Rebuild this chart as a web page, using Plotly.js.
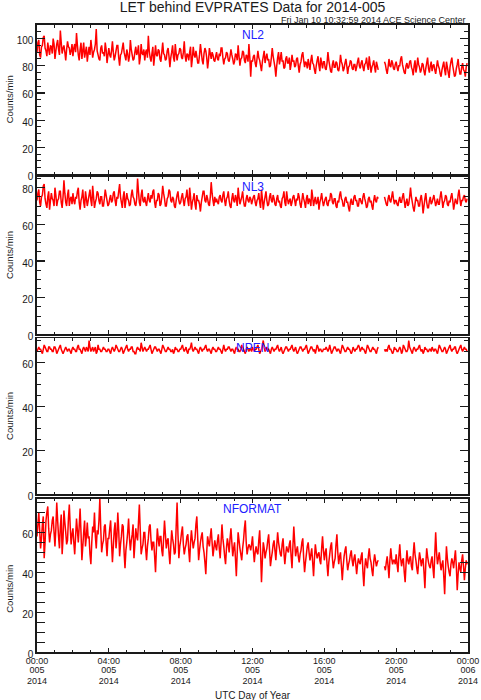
<!DOCTYPE html>
<html>
<head>
<meta charset="utf-8">
<script src="https://cdn.plot.ly/plotly-3.0.1.min.js"></script>
<style>html,body{margin:0;padding:0;background:#fff;}</style>
</head>
<body>
<div id="chart" style="width:481px;height:700px;"></div>
<script>
// Sampling grid: hours after 2014-005 00:00 UTC, one value every 3 minutes
const stepHours = 0.05;

const panelNames = ['NL2', 'NL3', 'NPEN', 'NFORMAT'];

const NL2 = [
 90, 97, 99, 88, 86, 94, 95,101,102, 93,  91, 87, 97, 92, 88, 95, 94, 89,100, 96,
 85, 91, 96, 99, 92, 88,106, 97, 89, 93,  95, 90, 84, 92, 98, 94, 93, 88, 91, 96,
 87, 93, 96, 90,104, 95, 88, 84, 92, 97,  85, 91, 97, 86, 90, 94, 83, 89, 94, 88,
 99, 93, 86, 90, 92, 96,107, 91, 88, 85,  84, 93, 95, 89, 90, 87, 97, 92, 82, 88,
 93, 88, 86, 91, 98, 90, 84, 87, 91, 95,  95, 86, 80, 88, 89, 93, 97, 90, 87, 84,
 92, 89, 83, 87, 99, 92, 88, 84, 85, 90,  94, 88, 90, 95, 81, 86, 96, 89, 88, 92,
 84, 90, 92, 86,102, 91, 86, 83, 89, 94,  80, 87, 95, 88, 87, 92, 91, 85, 83, 90,
 97, 89, 88, 84, 85, 91, 93, 87, 79, 86,  90, 95, 86, 83, 96, 89, 84, 88, 89, 93,
 92, 86, 85, 90, 98, 87, 83, 89, 88, 84,  90, 94, 79, 85, 94, 88, 86, 91, 87, 82,
 82, 88, 96, 90, 84, 81, 89, 93, 91, 86,  78, 84, 93, 89, 85, 90, 88, 84, 83, 87,
 90, 85, 84, 89, 87, 93, 93, 86, 81, 85,  86, 90, 89, 84, 83, 87, 92, 88, 85, 81,
 83, 89, 88, 84, 95, 87, 80, 85, 86, 91,  90, 84, 82, 88, 87, 83, 96, 86, 72, 84,
 83, 87, 88, 82, 79, 85, 91, 86, 84, 80,  76, 83, 87, 91, 82, 86, 89, 84, 85, 79,
 80, 86, 93, 87, 83, 79, 72, 80, 86, 90,  81, 85, 90, 83, 84, 78, 79, 85, 87, 82,
 82, 86, 77, 81, 88, 83, 84, 79, 80, 85,  86, 80, 75, 81, 83, 88, 90, 84, 79, 83,
 82, 78, 85, 81, 77, 84, 88, 82, 81, 77,  74, 80, 84, 87, 80, 76, 86, 82, 78, 83,
 83, 78, 77, 82, 90, 84, 80, 76, 75, 81,  84, 79, 79, 83, 82, 77, 76, 80, 88, 83,
 81, 76, 78, 82, 85, 80, 74, 79, 80, 84,  83, 78, 77, 81, 81, 76, 79, 83, 86, 80,
 78, 82, 84, 79, 76, 81, 82, 86, 80, 77,  87, 81, 75, 79, 81, 84, 79, 75, 83, 80,
 77,null,null,null,null,null,null, 83, 81, 77,  74, 79, 85, 80, 79, 84, 82, 78, 77, 81,
 83, 79, 76, 80, 80, 85, 87, 81, 78, 75,  74, 80, 82, 78, 79, 83, 84, 79, 77, 73,
 80, 84, 75, 79, 86, 81, 79, 75, 77, 82,  81, 76, 73, 78, 82, 86, 78, 75, 80, 83,
 76, 80, 81, 77, 74, 79, 84, 80, 78, 74,  72, 77, 80, 83, 77, 73, 83, 79, 75, 71,
 79, 83, 86, 80, 76, 72, 73, 78, 81, 85,  78, 74, 74, 79, 82, 77, 76, 72, 79, 82
];

const NL3 = [
 73, 77, 79, 72, 70, 75, 76, 81, 82, 74,  71, 69, 75, 78, 68, 73, 77, 74, 73, 70,
 80, 76, 70, 73, 74, 78, 78, 72, 69, 75,  84, 77, 72, 70, 76, 79, 70, 74, 75, 71,
 77, 73, 71, 75, 74, 78, 80, 72, 68, 73,  75, 79, 72, 69, 78, 74, 70, 73, 76, 79,
 73, 70, 81, 75, 69, 72, 74, 78, 77, 73,  71, 75, 75, 70, 70, 74, 79, 76, 73, 70,
 71, 74, 76, 72, 73, 77, 78, 73, 70, 75,  74, 78, 82, 75, 72, 69, 75, 78, 69, 73,
 77, 74, 73, 70, 71, 76, 79, 75, 74, 71,  70, 74, 85, 78, 72, 70, 76, 79, 73, 72,
 75, 72, 70, 74, 77, 73, 72, 76, 74, 78,  79, 72, 69, 73, 73, 77, 76, 70, 71, 75,
 81, 77, 74, 70, 70, 74, 75, 79, 78, 73,  72, 75, 74, 70, 69, 73, 76, 78, 73, 71,
 72, 75, 77, 73, 70, 74, 75, 79, 73, 70,  80, 75, 68, 72, 74, 77, 71, 68, 76, 73,
 73, 71, 67, 72, 75, 78, 78, 73, 72, 76,  74, 71, 70, 75, 83, 77, 73, 70, 75, 72,
 74, 72, 71, 75, 76, 73, 72, 76, 78, 73,  70, 74, 75, 78, 73, 70, 69, 74, 77, 73,
 72, 76, 74, 70, 80, 75, 71, 73, 75, 78,  73, 70, 70, 74, 76, 73, 72, 75, 74, 71,
 73, 75, 76, 72, 70, 73, 74, 77, 72, 69,  79, 74, 68, 72, 75, 78, 73, 70, 71, 75,
 77, 73, 72, 76, 74, 71, 70, 74, 76, 72,  73, 70, 69, 74, 75, 78, 72, 70, 78, 74,
 71, 73, 74, 70, 72, 75, 76, 73, 70, 74,  73, 77, 75, 71, 69, 73, 77, 74, 72, 69,
 74, 76, 71, 74, 73, 70, 79, 75, 70, 73,  75, 71, 72, 75, 68, 72, 74, 77, 73, 70,
 72, 74, 75, 71, 70, 73, 73, 77, 76, 72,  71, 74, 74, 70, 69, 73, 72, 76, 78, 74,
 73, 70, 70, 74, 75, 72, 72, 69, 67, 72,  74, 71, 71, 75, 76, 73, 73, 70, 70, 74,
 74, 72, 71, 75, 77, 74, 72, 69, 70, 74,  75, 72, 73, 70, 68, 73, 76, 73, 72, 75,
 74,null,null,null,null,null,null, 75, 73, 71,  70, 74, 76, 73, 72, 75, 78, 74, 71, 73,
 73, 71, 70, 73, 75, 72, 72, 75, 77, 73,  69, 72, 74, 70, 71, 75, 80, 75, 72, 69,
 67, 71, 75, 73, 73, 70, 70, 74, 76, 72,  66, 70, 74, 77, 72, 69, 69, 73, 75, 71,
 72, 74, 76, 73, 70, 72, 74, 71, 71, 75,  78, 74, 69, 72, 73, 76, 75, 71, 70, 73,
 72, 75, 77, 73, 68, 71, 74, 72, 71, 76,  79, 74, 70, 73, 73, 75, 76, 73, 72, 74
];

const NPEN = [
 65, 66, 67, 66, 66, 65, 64, 66, 68, 67,  66, 65, 65, 67, 67, 66, 66, 65, 65, 67,
 67, 66, 64, 65, 66, 67, 68, 66, 65, 64,  65, 66, 67, 66, 65, 66, 66, 65, 64, 66,
 67, 66, 66, 65, 65, 67, 68, 66, 66, 65,  64, 66, 67, 66, 65, 67, 66, 65, 70, 67,
 65, 66, 67, 65, 66, 67, 64, 65, 68, 66,  66, 65, 65, 66, 67, 66, 66, 65, 65, 66,
 66, 65, 64, 66, 67, 66, 65, 66, 68, 67,  66, 65, 65, 66, 67, 66, 64, 65, 66, 67,
 68, 66, 65, 66, 66, 67, 67, 65, 65, 64,  64, 66, 67, 66, 66, 65, 69, 67, 65, 66,
 67, 66, 65, 66, 66, 67, 68, 66, 64, 65,  66, 67, 67, 66, 65, 66, 66, 65, 64, 66,
 68, 67, 66, 65, 65, 66, 67, 66, 66, 65,  65, 66, 64, 65, 67, 66, 66, 65, 65, 66,
 66, 67, 68, 66, 65, 66, 67, 65, 64, 66,  66, 67, 69, 66, 65, 66, 67, 66, 66, 65,
 64, 66, 67, 66, 65, 66, 66, 67, 68, 66,  65, 66, 66, 65, 64, 66, 67, 66, 66, 65,
 65, 66, 67, 66, 66, 65, 64, 66, 68, 66,  65, 66, 66, 67, 67, 66, 65, 66, 66, 65,
 64, 66, 67, 66, 66, 65, 65, 66, 68, 67,  66, 65, 64, 66, 67, 66, 65, 66, 66, 65,
 67, 66, 65, 66, 66, 67, 68, 66, 64, 65,  66, 68, 70, 67, 65, 66, 67, 66, 66, 65,
 64, 66, 67, 66, 65, 66, 66, 67, 68, 66,  65, 66, 67, 65, 64, 65, 66, 67, 67, 66,
 65, 66, 66, 67, 68, 66, 65, 66, 67, 65,  64, 65, 66, 67, 67, 66, 65, 66, 66, 67,
 68, 66, 64, 65, 66, 67, 67, 66, 65, 66,  64, 66, 68, 67, 65, 66, 66, 65, 65, 66,
 66, 66, 67, 66, 65, 66, 68, 66, 64, 65,  66, 67, 67, 66, 65, 66, 66, 65, 64, 66,
 68, 67, 66, 65, 65, 66, 67, 66, 66, 65,  64, 65, 67, 66, 65, 66, 66, 67, 68, 67,
 65, 66, 67, 66, 66, 65, 64, 66, 68, 67,  66, 65, 65, 66, 67, 66, 66, 65, 64, 66,
 67,null,null,null,null,null,null, 66, 65, 66,  65, 67, 68, 66, 66, 65, 64, 65, 67, 66,
 66, 65, 65, 66, 67, 66, 64, 65, 68, 67,  66, 65, 65, 66, 70, 67, 66, 65, 64, 66,
 67, 66, 65, 66, 66, 67, 68, 66, 65, 66,  64, 65, 67, 66, 66, 65, 65, 66, 66, 65,
 67, 66, 65, 66, 66, 65, 64, 66, 68, 67,  66, 65, 65, 66, 67, 66, 64, 65, 66, 67,
 68, 66, 65, 66, 66, 67, 67, 65, 64, 65,  66, 67, 68, 66, 65, 66, 67, 66, 66, 65
];

const NFORMAT = [
 58, 64, 70, 61, 52, 57, 64, 68, 47, 55,  66, 70, 73, 62, 55, 59, 61, 66, 68, 60,
 53, 62, 75, 66, 58, 52, 63, 69, 49, 57,  71, 65, 60, 54, 56, 67, 74, 63, 54, 59,
 62, 55, 49, 58, 67, 61, 55, 63, 72, 60,  46, 53, 60, 66, 53, 58, 65, 57, 58, 49,
 44, 55, 63, 60, 70, 58, 52, 61, 59, 66,  77, 62, 50, 54, 56, 63, 64, 55, 48, 57,
 57, 62, 66, 55, 45, 53, 61, 65, 52, 58,  70, 61, 48, 54, 58, 64, 63, 50, 42, 51,
 55, 60, 67, 57, 51, 56, 59, 64, 47, 54,  62, 58, 56, 65, 74, 61, 49, 52, 54, 60,
 60, 52, 46, 53, 57, 63, 64, 56, 51, 55,  55, 48, 40, 52, 62, 57, 53, 58, 58, 51,
 48, 57, 66, 59, 52, 56, 57, 50, 44, 53,  61, 57, 54, 49, 50, 63, 75, 59, 47, 53,
 56, 60, 63, 54, 49, 52, 54, 58, 59, 51,  45, 55, 61, 56, 52, 55, 57, 64, 68, 57,
 46, 51, 55, 58, 60, 53, 50, 45, 39, 50,  58, 55, 53, 58, 62, 55, 48, 52, 56, 53,
 51, 56, 59, 52, 47, 55, 64, 57, 53, 48,  44, 52, 57, 54, 50, 57, 62, 55, 48, 52,
 55, 47, 38, 50, 60, 56, 52, 49, 46, 52,  56, 62, 66, 55, 49, 52, 54, 53, 51, 54,
 58, 51, 45, 50, 53, 50, 49, 56, 61, 50,  35, 46, 55, 52, 47, 50, 52, 56, 59, 51,
 43, 47, 50, 54, 56, 51, 46, 53, 60, 55,  52, 49, 48, 54, 57, 50, 44, 49, 53, 51,
 50, 54, 56, 48, 42, 53, 63, 55, 48, 51,  53, 48, 45, 49, 51, 55, 57, 47, 40, 45,
 49, 53, 55, 50, 46, 49, 52, 45, 38, 47,  54, 50, 47, 49, 50, 46, 44, 52, 58, 51,
 46, 50, 52, 44, 38, 45, 49, 53, 55, 47,  42, 45, 47, 54, 59, 50, 44, 48, 50, 43,
 36, 43, 48, 51, 53, 46, 41, 44, 46, 49,  51, 46, 43, 47, 49, 44, 39, 44, 47, 45,
 44, 48, 50, 40, 33, 42, 47, 44, 42, 48,  52, 47, 45, 41, 38, 45, 49, 46, 43, 45,
 46,null,null,null,null,null,null, 43, 41, 45,  48, 43, 37, 46, 52, 47, 44, 46, 46, 44,
 49, 44, 40, 48, 54, 47, 43, 46, 47, 40,  35, 44, 51, 46, 44, 47, 48, 43, 41, 49,
 55, 49, 46, 42, 39, 45, 50, 47, 43, 46,  47, 40, 32, 44, 52, 48, 45, 43, 42, 46,
 48, 42, 37, 49, 60, 50, 44, 47, 50, 45,  41, 44, 46, 38, 29, 42, 53, 47, 43, 40,
 38, 44, 47, 45, 42, 47, 51, 43, 31, 39,  45, 42, 40, 46, 49, 43, 36, 42, 46, 44
];

const tickHours = [0, 4, 8, 12, 16, 20, 24];
const tickTime  = ['00:00', '04:00', '08:00', '12:00', '16:00', '20:00', '00:00'];
const tickDay   = ['005', '005', '005', '005', '005', '005', '006'];
const tickYear  = ['2014', '2014', '2014', '2014', '2014', '2014', '2014'];

const yMax = [110, 86, 71, 77];
const yDomains = [[0.7616, 1], [0.5064, 0.7581], [0.2512, 0.5003], [0, 0.2448]];

const seriesList = [NL2, NL3, NPEN, NFORMAT];
const hours = NL2.map((_, i) => i * stepHours);

const traces = seriesList.map((vals, k) => ({
  type: 'scatter', mode: 'lines',
  x: hours, y: vals,
  xaxis: k === 0 ? 'x' : 'x' + (k + 1),
  yaxis: k === 0 ? 'y' : 'y' + (k + 1),
  line: { color: '#ff0000', width: 1.5, simplify: false },
  connectgaps: false,
  hoverinfo: 'skip'
}));
// empty traces that carry the extra tick-label rows under the bottom panel
traces.push({ type: 'scatter', mode: 'lines', x: [], y: [], xaxis: 'x5', yaxis: 'y4', hoverinfo: 'skip' });
traces.push({ type: 'scatter', mode: 'lines', x: [], y: [], xaxis: 'x6', yaxis: 'y4', hoverinfo: 'skip' });

const FONT = 'Liberation Sans, Arial, Helvetica, sans-serif';
const INK = '#1a1a1a';
const XFONT = 9;

function xAxis(k, labels) {
  return {
    anchor: k === 0 ? 'y' : 'y' + (k + 1),
    range: [0, 24],
    tickmode: 'array', tickvals: tickHours, ticktext: labels || tickTime,
    showticklabels: !!labels,
    ticklabelstandoff: 0,
    ticks: 'inside', ticklen: 4, tickwidth: 1.2, tickcolor: INK,
    minor: { dtick: 1, tick0: 0, ticks: 'inside', ticklen: 2.5, tickwidth: 1, tickcolor: INK, showgrid: false },
    showline: true, linecolor: INK, linewidth: 1.6, mirror: 'allticks',
    showgrid: false, zeroline: false, fixedrange: true,
    tickfont: { family: FONT, size: XFONT, color: INK }
  };
}
function labelAxis(labels, standoff) {
  return {
    overlaying: 'x4', anchor: 'y4', range: [0, 24],
    tickmode: 'array', tickvals: tickHours, ticktext: labels,
    showticklabels: true, ticks: '', showline: false, showgrid: false, zeroline: false,
    ticklabelstandoff: standoff, fixedrange: true,
    tickfont: { family: FONT, size: XFONT, color: INK }
  };
}
function yAxis(k) {
  return {
    domain: yDomains[k],
    anchor: k === 0 ? 'x' : 'x' + (k + 1),
    range: [0, yMax[k]],
    tickmode: 'linear', tick0: 0, dtick: 20,
    ticklabelshift: 2,
    ticks: 'inside', ticklen: 8, tickwidth: 1.2, tickcolor: INK,
    minor: { dtick: 5, tick0: 0, ticks: 'inside', ticklen: 4, tickwidth: 1, tickcolor: INK, showgrid: false },
    showline: true, linecolor: INK, linewidth: 1.6, mirror: 'allticks',
    showgrid: false, zeroline: false, fixedrange: true,
    tickfont: { family: FONT, size: 10, color: INK }
  };
}

const annotations = [];
panelNames.forEach((name, k) => {
  const yr = (k === 0 ? 'y' : 'y' + (k + 1)) + ' domain';
  annotations.push({
    text: name, xref: 'paper', x: 0.5, yref: yr, y: 1, yshift: -10,
    xanchor: 'center', yanchor: 'middle', showarrow: false,
    font: { family: FONT, size: 12, color: '#2020ff' }
  });
  annotations.push({
    text: 'Counts/min', xref: 'paper', x: 0, xshift: -27.5, yref: yr, y: 0.5,
    yshift: k === 3 ? -14 : 0,
    xanchor: 'center', yanchor: 'middle', textangle: -90, showarrow: false,
    font: { family: FONT, size: 9.5, color: INK }
  });
});
annotations.push({
  text: 'Fri Jan 10 10:32:59 2014 ACE Science Center',
  xref: 'paper', x: 1, xanchor: 'right', yref: 'paper', y: 1, yshift: 5, yanchor: 'middle',
  showarrow: false, font: { family: FONT, size: 9, color: INK }
});
annotations.push({
  text: 'UTC Day of Year', xref: 'paper', x: 0.5, xanchor: 'center',
  yref: 'paper', y: 0, yshift: -43, yanchor: 'middle',
  showarrow: false, font: { family: FONT, size: 10, color: INK }
});

const layout = {
  width: 481, height: 700,
  margin: { l: 37, r: 13, t: 25, b: 48 },
  paper_bgcolor: '#ffffff', plot_bgcolor: '#ffffff',
  showlegend: false,
  font: { family: FONT, color: INK },
  title: {
    text: 'LET behind EVPRATES Data for 2014-005',
    xref: 'paper', x: 0.5, xanchor: 'center',
    yref: 'container', y: 0.9905, yanchor: 'middle',
    font: { family: FONT, size: 14, color: INK }
  },
  xaxis: xAxis(0), xaxis2: xAxis(1), xaxis3: xAxis(2), xaxis4: xAxis(3, tickTime),
  xaxis5: labelAxis(tickDay, 11), xaxis6: labelAxis(tickYear, 22),
  yaxis: yAxis(0), yaxis2: yAxis(1), yaxis3: yAxis(2), yaxis4: yAxis(3),
  annotations: annotations
};

Plotly.newPlot('chart', traces, layout, { displayModeBar: false, staticPlot: true });
</script>
</body>
</html>
